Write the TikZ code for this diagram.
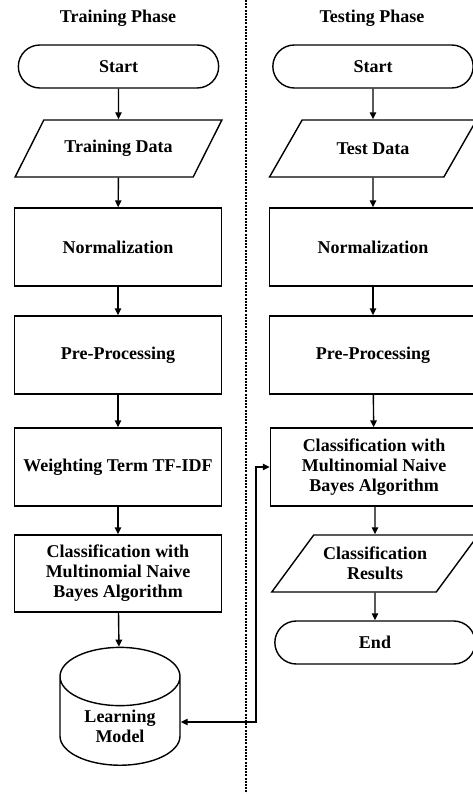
\documentclass[tikz,border=0pt]{standalone}
\usepackage{fontspec}
\setmainfont{Liberation Serif}
\usetikzlibrary{arrows.meta,shapes.geometric,shapes.misc}

\begin{document}
\begin{tikzpicture}[
  x=1pt, y=-1pt,
  every node/.style={font=\fontsize{18}{20}\selectfont\bfseries, align=center},
  block/.style={draw, rectangle, line width=1.4pt, minimum width=207pt, minimum height=78pt, inner sep=2pt},
  terminal/.style={draw, rounded rectangle, line width=1.4pt, minimum width=207pt, minimum height=43pt},
  iobox/.style={draw, trapezium, trapezium left angle=48, trapezium right angle=132,
    trapezium stretches=true, line width=1.4pt, minimum width=207pt, minimum height=57pt, inner xsep=0pt},
  dbase/.style={draw, cylinder, shape border rotate=90, aspect=0.75, line width=1.4pt,
    minimum width=120pt, minimum height=116pt},
  arrow/.style={-{Triangle[length=7pt,width=6.5pt]}, line width=1.4pt},
  divider/.style={line width=1.5pt, dash pattern=on 2pt off 1.2pt}
]
\useasboundingbox (0,0) rectangle (472,794);

% training phase
\node (titletrain) at (118,18) {Training Phase};
\node[terminal] (starttrain) at (118.5,66.5) {Start};
\node[iobox] (datatrain) at (118.5,148.5) {Training Data};
\node[block] (normtrain) at (118,247) {Normalization};
\node[block] (pretrain) at (118,355) {Pre-Processing};
\node[block] (weight) at (118,467) {Weighting Term TF-IDF};
\node[block, minimum height=77pt] (clstrain) at (118,573.5) {Classification with\\Multinomial Naive\\Bayes Algorithm};
\node[dbase] (learn) at (120,726) {Learning\\Model};

% testing phase
\node (titletest) at (372,18) {Testing Phase};
\node[terminal] (starttest) at (373,66.5) {Start};
\node[iobox] (datatest) at (373,148.5) {Test Data};
\node[block] (normtest) at (373,247) {Normalization};
\node[block] (pretest) at (373,355) {Pre-Processing};
\node[block] (clstest) at (374,467) {Classification with\\Multinomial Naive\\Bayes Algorithm};
\node[iobox] (result) at (375,563.5) {Classification\\Results};
\node[terminal] (endtest) at (375,642.5) {End};

% divider
\coordinate (divtop) at (246,0);
\coordinate (divbot) at (246,794);
\draw[divider] (divtop) -- (divbot);

\draw[arrow] (starttrain) -- (datatrain);
\draw[arrow] (datatrain) -- (normtrain);
\draw[arrow] (normtrain) -- (pretrain);
\draw[arrow] (pretrain) -- (weight);
\draw[arrow] (weight) -- (clstrain);
\draw[arrow] (clstrain) -- (learn);

\draw[arrow] (starttest) -- (datatest);
\draw[arrow] (datatest) -- (normtest);
\draw[arrow] (normtest) -- (pretest);
\draw[arrow] (pretest) -- (clstest);
\draw[arrow] (clstest.south -| result) -- (result);
\draw[arrow] (result) -- (endtest);

\coordinate (elbow) at (256,722);
\draw[arrow, {Triangle[length=7pt,width=6.5pt]}-{Triangle[length=7pt,width=6.5pt]}]
  (learn.east |- elbow) -- (elbow) |- (clstest.west);
\end{tikzpicture}
\end{document}
